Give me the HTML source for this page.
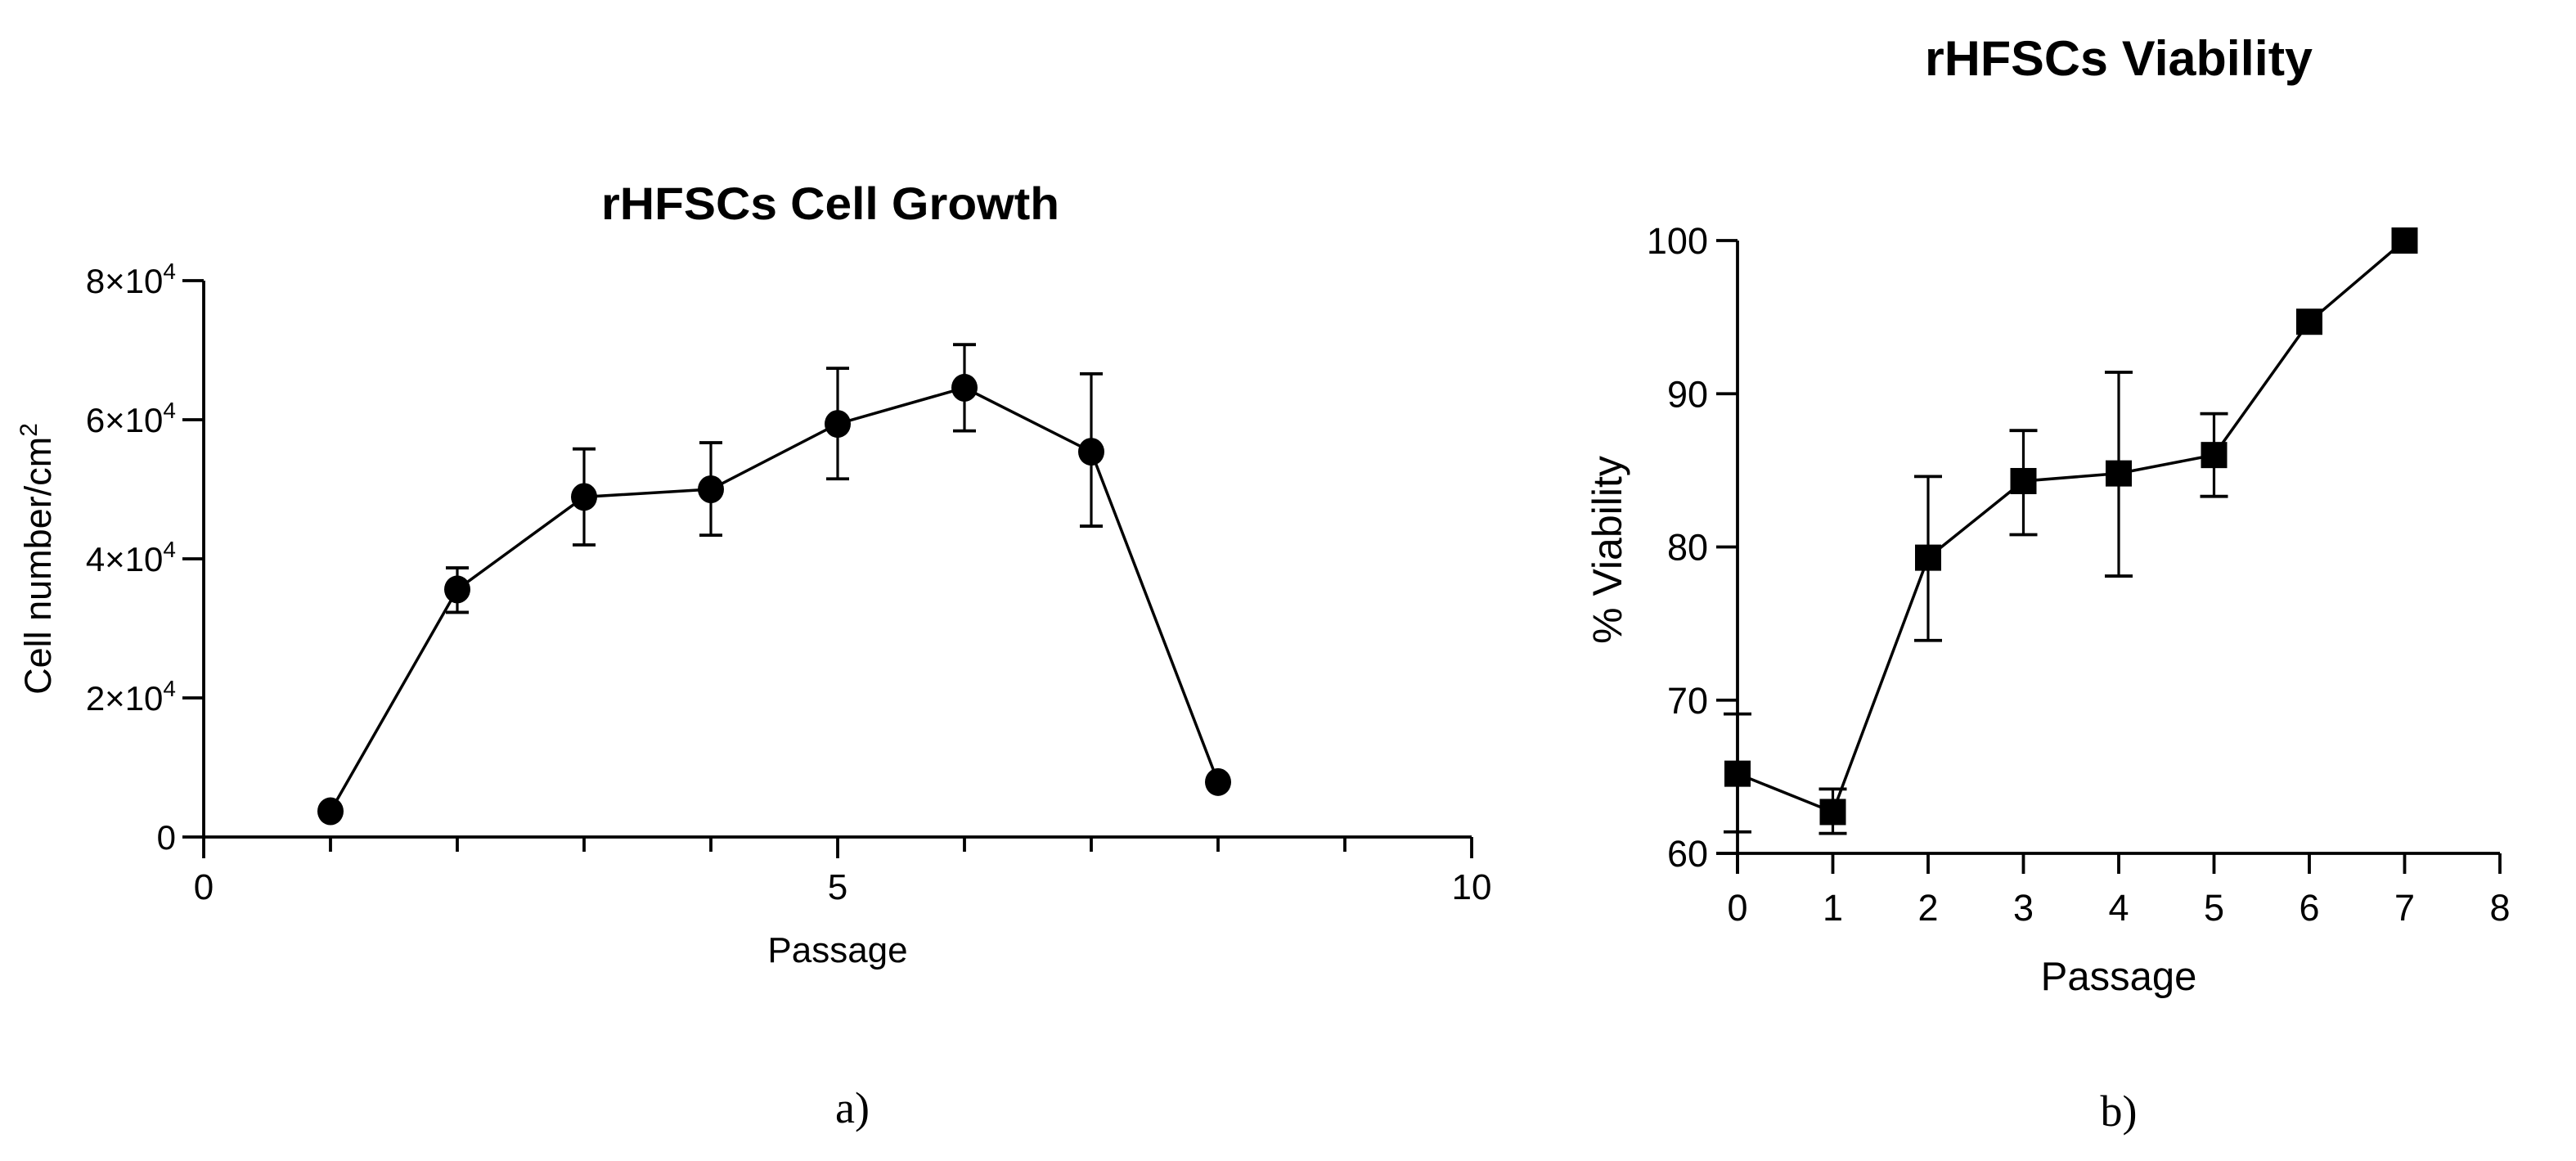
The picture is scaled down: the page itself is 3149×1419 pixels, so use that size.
<!DOCTYPE html>
<html><head><meta charset="utf-8"><style>
html,body{margin:0;padding:0;background:#fff;}
svg{display:block;font-family:"Liberation Sans",Arial,sans-serif;}
</style></head><body>
<svg id="fig" width="3149" height="1419" viewBox="0 0 3149 1419" xmlns="http://www.w3.org/2000/svg">
<rect width="3149" height="1419" fill="#fff"/>
<g id="chartA"></g>
<g id="chartB"></g>
<text x="1015" y="268" text-anchor="middle" font-size="56" font-weight="bold" textLength="560" lengthAdjust="spacingAndGlyphs">rHFSCs Cell Growth</text>
<text transform="translate(62,683) rotate(-90)" text-anchor="middle" font-size="45">Cell number/cm<tspan dy="-17" font-size="30">2</tspan></text>
<text x="1024" y="1176" text-anchor="middle" font-size="44">Passage</text>
<text x="1042" y="1372" text-anchor="middle" font-size="54" font-family="Liberation Serif, serif">a)</text>
<text x="2590" y="92" text-anchor="middle" font-size="60" font-weight="bold" textLength="474" lengthAdjust="spacingAndGlyphs">rHFSCs Viability</text>
<text transform="translate(1982,672) rotate(-90)" text-anchor="middle" font-size="50">% Viability</text>
<text x="2590" y="1210" text-anchor="middle" font-size="49">Passage</text>
<text x="2590" y="1376" text-anchor="middle" font-size="54" font-family="Liberation Serif, serif">b)</text>
</svg>
<script>
// Chart A data
const aX = [1,2,3,4,5,6,7,8];
const aMean = [3.7,35.6,48.9,50.0,59.4,64.6,55.4,7.9]; // x10^3
const aHi = [null,38.7,55.8,56.7,67.4,70.8,66.6,null];
const aLo = [null,32.3,42.0,43.4,51.5,58.4,44.7,null];
const aYTicks = [0,20,40,60,80];
const aYTickLabels = ["0","2×10","4×10","6×10","8×10"];
const aXMajor = [0,5,10];
// Chart B data
const bX = [0,1,2,3,4,5,6,7];
const bMean = [65.2,62.7,79.3,84.3,84.8,86.0,94.7,100];
const bHi = [69.1,64.2,84.6,87.6,91.4,88.7,null,null];
const bLo = [61.4,61.3,73.9,80.8,78.1,83.3,null,null];
const bYTicks = [60,70,80,90,100];
const bXTicks = [0,1,2,3,4,5,6,7,8];

const NS="http://www.w3.org/2000/svg";
function mk(parent,tag,attrs){const e=document.createElementNS(NS,tag);for(const k in attrs)e.setAttribute(k,attrs[k]);parent.appendChild(e);return e;}

// ---------- Chart A ----------
(function(){
const g=document.getElementById('chartA');
const xs=v=>249+(v/10)*1550;
const ys=v=>1023-(v/80)*680;
const S={stroke:'#000','stroke-width':3.8,fill:'none'};
let e=mk(g,'line',{x1:xs(0),y1:ys(80),x2:xs(0),y2:ys(0),...S});


e=mk(g,'line',{x1:xs(0),y1:ys(0),x2:xs(10),y2:ys(0),...S});


aYTicks.forEach((t,i)=>{
  let l=mk(g,'line',{x1:xs(0)-26,y1:ys(t),x2:xs(0),y2:ys(t),...S});
  
  
  let tx=mk(g,'text',{x:xs(0)-34,y:ys(t)+15,'text-anchor':'end','font-size':42});
  
  
  tx.textContent=aYTickLabels[i];
  if(t!==0){const s=document.createElementNS(NS,'tspan');s.setAttribute('dy','-17');s.setAttribute('font-size','28');s.textContent='4';tx.appendChild(s);}
});
for(let v=0;v<=10;v++){
  const major=aXMajor.includes(v);
  let l=mk(g,'line',{x1:xs(v),y1:ys(0),x2:xs(v),y2:ys(0)+(major?26:18),...S});
  
  
}
aXMajor.forEach(v=>{
  let tx=mk(g,'text',{x:xs(v),y:ys(0)+76,'text-anchor':'middle','font-size':44});
  
  
  tx.textContent=v;
});
const pts=aX.map((x,i)=>xs(x)+','+ys(aMean[i])).join(' ');
e=mk(g,'polyline',{points:pts,...S,'stroke-width':3.5});


aX.forEach((x,i)=>{
  if(aHi[i]!=null){
    const eg=mk(g,'g',{});
    
    
    mk(eg,'line',{x1:xs(x),y1:ys(aHi[i]),x2:xs(x),y2:ys(aLo[i]),...S,'stroke-width':3.2});
    mk(eg,'line',{x1:xs(x)-14,y1:ys(aHi[i]),x2:xs(x)+14,y2:ys(aHi[i]),...S});
    mk(eg,'line',{x1:xs(x)-14,y1:ys(aLo[i]),x2:xs(x)+14,y2:ys(aLo[i]),...S});
  }
  const c=mk(g,'ellipse',{cx:xs(x),cy:ys(aMean[i]),rx:16,ry:17,fill:'#000'});
  
  
});
})();

// ---------- Chart B ----------
(function(){
const g=document.getElementById('chartB');
const xs=v=>2124+(v/8)*932;
const ys=v=>1043-((v-60)/40)*749;
const S={stroke:'#000','stroke-width':3.8,fill:'none'};
let e=mk(g,'line',{x1:xs(0),y1:ys(100),x2:xs(0),y2:ys(60)+25,...S});


e=mk(g,'line',{x1:xs(0)-26,y1:ys(60),x2:xs(8),y2:ys(60),...S});


bYTicks.forEach(t=>{
  let l=mk(g,'line',{x1:xs(0)-26,y1:ys(t),x2:xs(0),y2:ys(t),...S});
  
  
  let tx=mk(g,'text',{x:xs(0)-36,y:ys(t)+16,'text-anchor':'end','font-size':45});
  
  
  tx.textContent=t;
});
bXTicks.forEach(v=>{
  let l=mk(g,'line',{x1:xs(v),y1:ys(60),x2:xs(v),y2:ys(60)+25,...S});
  
  
  let tx=mk(g,'text',{x:xs(v),y:ys(60)+82,'text-anchor':'middle','font-size':45});
  
  
  tx.textContent=v;
});
const pts=bX.map((x,i)=>xs(x)+','+ys(bMean[i])).join(' ');
e=mk(g,'polyline',{points:pts,...S,'stroke-width':3.5});


bX.forEach((x,i)=>{
  if(bHi[i]!=null){
    const eg=mk(g,'g',{});
    
    
    mk(eg,'line',{x1:xs(x),y1:ys(bHi[i]),x2:xs(x),y2:ys(bLo[i]),...S,'stroke-width':3.2});
    mk(eg,'line',{x1:xs(x)-17,y1:ys(bHi[i]),x2:xs(x)+17,y2:ys(bHi[i]),...S});
    mk(eg,'line',{x1:xs(x)-17,y1:ys(bLo[i]),x2:xs(x)+17,y2:ys(bLo[i]),...S});
  }
  const r=mk(g,'rect',{x:xs(x)-16,y:ys(bMean[i])-16,width:32,height:32,fill:'#000'});
  
  
});
})();
</script>
</body></html>
